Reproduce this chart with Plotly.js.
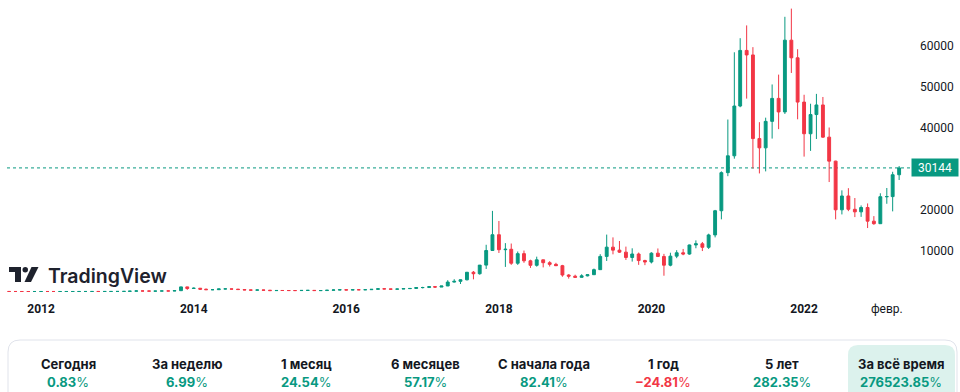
<!DOCTYPE html>
<html>
<head>
<meta charset="utf-8">
<script src="https://cdn.plot.ly/plotly-3.0.1.min.js"></script>
<style>
html,body{margin:0;padding:0;background:#fff;}
#chart{width:960px;height:392px;}
</style>
</head>
<body>
<div id="chart"></div>
<script>
// Monthly BTC/USD candles, Aug 2011 .. Apr 2023
const startYear = 2011, startMonth = 8;
const openVals = [
  10.9,8.2,5.1,3.2,3.0,
  4.7,5.5,4.9,4.9,5.0,5.2,6.7,9.3,10.2,12.4,11.2,12.6,
  13.5,20.4,33.4,93,139,129,97,106,141,133,204,1129,
  732,800,570,445,448,630,640,585,478,387,338,375,
  320,217,255,244,236,230,263,284,229,236,314,377,
  430,369,437,416,448,531,670,624,573,608,700,745,
  964,970,1190,1080,1350,2300,2480,2860,4700,4340,6440,10000,
  13850,10200,10300,6900,9240,7490,6390,7730,7030,6620,6300,4020,
  3740,3460,3820,4100,5330,8560,10820,10090,9600,8300,9150,7550,
  7200,9350,8550,6420,8630,9450,9140,11350,11650,10780,13800,19700,
  28990,33100,45240,58800,57700,37300,35040,41500,47100,43800,61300,57000,
  46200,38480,43160,45500,37650,31800,19930,23300,20050,19430,20490,17160,
  16540,23130,23150,28480
];
const highVals = [
  13.5,8.9,5.2,3.6,4.8,
  7.4,6.3,5.4,5.2,5.2,6.8,9.5,15.4,12.8,12.8,12.9,13.7,
  20.7,33.4,93,259,140,130,112,141,142,220,1163,1163,
  1000,800,700,550,630,680,650,600,480,415,460,400,
  320,270,300,260,247,268,316,285,243,334,500,465,
  463,445,440,466,549,775,705,624,627,720,752,975,
  1150,1210,1350,1350,2760,3000,2920,4750,5000,6470,11400,19666,
  17200,11800,11700,9760,9990,7760,8500,7750,7400,7000,6500,4240,
  4100,4200,4140,5600,9100,13880,13200,12320,10950,10540,9500,7750,
  9580,10500,9180,9460,10080,10380,11440,12470,12080,14100,19900,29300,
  41950,58350,61780,64900,59600,41300,42400,50500,52900,67000,69000,59100,
  47990,45800,48200,47450,40000,31900,24670,25200,22800,20990,21480,18390,
  23960,25250,29200,30600
];
const lowVals = [
  7.0,4.5,2.2,2.0,2.8,
  4.6,4.3,4.7,4.8,4.9,5.2,6.5,7.1,10.0,10.0,10.4,12.4,
  13.2,19.5,33,45,80,88,66,102,118,107,200,400,
  730,420,440,340,420,550,570,440,350,275,320,300,
  152,212,236,214,225,220,252,162,224,235,300,350,
  350,365,400,412,438,524,580,465,570,602,683,744,
  752,920,890,1080,1350,2200,1830,2700,2970,4110,5500,10000,
  9400,6000,6500,6500,7000,5750,6070,5880,6100,6200,3600,3150,
  3400,3400,3700,4080,5320,7450,9070,9400,7700,7300,6500,6430,
  6850,8400,3850,6150,8130,8850,8970,10550,9870,10380,13200,17600,
  28130,32400,44950,47050,30000,28800,29300,37300,39600,43300,53300,42000,
  32900,34300,37200,37500,26700,17600,18800,19600,18150,18200,15480,16270,
  16500,21400,19550,27200
];
const closeVals = [
  8.2,5.1,3.2,3.0,4.7,
  5.5,4.9,4.9,5.0,5.2,6.7,9.3,10.2,12.4,11.2,12.6,13.5,
  20.4,33.4,93,139,129,97,106,141,133,204,1129,732,
  800,570,445,448,630,640,585,478,387,338,375,320,
  217,255,244,236,230,263,284,229,236,314,377,430,
  369,437,416,448,531,670,624,573,608,700,745,964,
  970,1190,1080,1350,2300,2480,2860,4700,4340,6440,10000,13850,
  10200,10300,6900,9240,7490,6390,7730,7030,6620,6300,4020,3740,
  3460,3820,4100,5330,8560,10820,10090,9600,8300,9150,7550,7200,
  9350,8550,6420,8630,9450,9140,11350,11650,10780,13800,19700,28990,
  33100,45240,58800,57700,37300,35040,41500,47100,43800,61300,57000,46200,
  38480,43160,45500,37650,31800,19930,23300,20050,19430,20490,17160,16540,
  23130,23150,28480,30144
];
const lastPrice = 30144;
const xTickVals = ['2012-01-01','2014-01-01','2016-01-01','2018-01-01','2020-01-01','2022-01-01','2023-02-01'];
const xTickText = ['<b>2012</b>','<b>2014</b>','<b>2016</b>','<b>2018</b>','<b>2020</b>','<b>2022</b>','февр.'];
const yTickVals = [10000,20000,40000,50000,60000];
const yTickText = ['10000','20000','40000','50000','60000'];
const statLabels = ['Сегодня','За неделю','1 месяц','6 месяцев','С начала года','1 год','5 лет','За всё время'];
const statValues = ['0.83','6.99','24.54','57.17','82.41','−24.81','282.35','276523.85'];

// month dates
const dates = [];
for (let i = 0; i < closeVals.length; i++) {
  const m = startMonth - 1 + i;
  const y = startYear + Math.floor(m / 12);
  const mm = (m % 12) + 1;
  dates.push(y + '-' + String(mm).padStart(2, '0') + '-01');
}

const UP = '#089981', DOWN = '#F23645', TXT = '#131722';
const W = 960, H = 392, ML = 7, MR = 50, MT = 0, MB = 92;
const PW = W - ML - MR, PH = H - MT - MB;
const px = x => (x - ML) / PW;
const py = y => (PH + MT - y) / PH;

function roundRect(x0, y0, x1, y1, r) {
  const p = (x, y) => px(x) + ',' + py(y);
  return 'M' + p(x0, y1) + ' L' + p(x0, y0 + r) + ' Q' + p(x0, y0) + ' ' + p(x0 + r, y0) +
    ' L' + p(x1 - r, y0) + ' Q' + p(x1, y0) + ' ' + p(x1, y0 + r) + ' L' + p(x1, y1);
}
function poly(pts) {
  return 'M' + pts.map(q => px(q[0]) + ',' + py(q[1])).join(' L') + ' Z';
}

const trace = {
  type: 'candlestick',
  x: dates, open: openVals, high: highVals, low: lowVals, close: closeVals,
  increasing: {line: {color: UP, width: 1}, fillcolor: UP},
  decreasing: {line: {color: DOWN, width: 1}, fillcolor: DOWN},
  whiskerwidth: 0,
  hoverinfo: 'none',
  showlegend: false
};

const shapes = [
  {type: 'line', xref: 'paper', yref: 'y', x0: 0, x1: 1, y0: lastPrice, y1: lastPrice,
   line: {color: UP, width: 1, dash: 'dot'}, layer: 'below'},
  // bottom card
  {type: 'path', xref: 'paper', yref: 'paper', path: roundRect(8, 340, 957, 402, 12),
   line: {color: '#e0e3eb', width: 1}, fillcolor: 'rgba(0,0,0,0)'},
  {type: 'path', xref: 'paper', yref: 'paper', path: roundRect(848, 345, 955, 402, 10) + ' Z',
   line: {width: 0}, fillcolor: '#dcf2ed'},
  // logo
  {type: 'path', xref: 'paper', yref: 'paper', path: poly([[9,267],[21,267],[21,282],[15,282],[15,272],[9,272]]),
   line: {width: 0}, fillcolor: '#1e222d'},
  {type: 'circle', xref: 'paper', yref: 'paper', x0: px(22.5), x1: px(28), y0: py(267), y1: py(272.5),
   line: {width: 0}, fillcolor: '#1e222d'},
  {type: 'path', xref: 'paper', yref: 'paper', path: poly([[31.5,267],[38.5,267],[31,282],[24.5,282]]),
   line: {width: 0}, fillcolor: '#1e222d'}
];

const annotations = [
  {xref: 'paper', yref: 'y', x: 1, y: lastPrice, xanchor: 'left', yanchor: 'middle', xshift: 1,
   text: String(lastPrice), showarrow: false, bgcolor: UP, width: 42, height: 13, borderpad: 2,
   font: {family: 'Roboto, sans-serif', size: 12, color: '#ffffff'}},
  {xref: 'paper', yref: 'paper', x: px(46), y: py(276), xanchor: 'left', yanchor: 'middle',
   text: 'TradingView', showarrow: false,
   font: {family: 'Inter, sans-serif', size: 19.5, color: '#1e222d', weight: 600}}
];
statLabels.forEach((lab, i) => {
  const cx = 68 + 119 * i;
  const neg = statValues[i].startsWith('−');
  annotations.push({xref: 'paper', yref: 'paper', x: px(cx), y: py(364), xanchor: 'center', yanchor: 'middle',
    text: lab, showarrow: false, font: {family: 'Inter, sans-serif', size: 13, color: TXT, weight: 700}});
  annotations.push({xref: 'paper', yref: 'paper', x: px(cx), y: py(382), xanchor: 'center', yanchor: 'middle',
    text: '<b>' + statValues[i] + '</b>%', showarrow: false,
    font: {family: 'Inter, sans-serif', size: 13, color: neg ? DOWN : UP}});
});

const layout = {
  width: W, height: H,
  margin: {l: ML, r: MR, t: MT, b: MB, pad: 0},
  paper_bgcolor: '#ffffff', plot_bgcolor: '#ffffff',
  showlegend: false,
  dragmode: false,
  xaxis: {
    type: 'date', range: ['2011-07-22', '2023-05-23'],
    rangeslider: {visible: false},
    tickmode: 'array', tickvals: xTickVals, ticktext: xTickText,
    showgrid: false, zeroline: false, showline: false, ticks: '',
    tickfont: {family: 'Roboto, sans-serif', size: 12, color: TXT},
    fixedrange: true
  },
  yaxis: {
    side: 'right', range: [-2070, 71100],
    tickmode: 'array', tickvals: yTickVals, ticktext: yTickText,
    showgrid: false, zeroline: false, showline: false, ticks: '',
    ticklabelstandoff: 9,
    tickfont: {family: 'Roboto, sans-serif', size: 12, color: TXT},
    fixedrange: true
  },
  shapes: shapes,
  annotations: annotations
};

Plotly.newPlot('chart', [trace], layout, {displayModeBar: false, staticPlot: true});
</script>
</body>
</html>
